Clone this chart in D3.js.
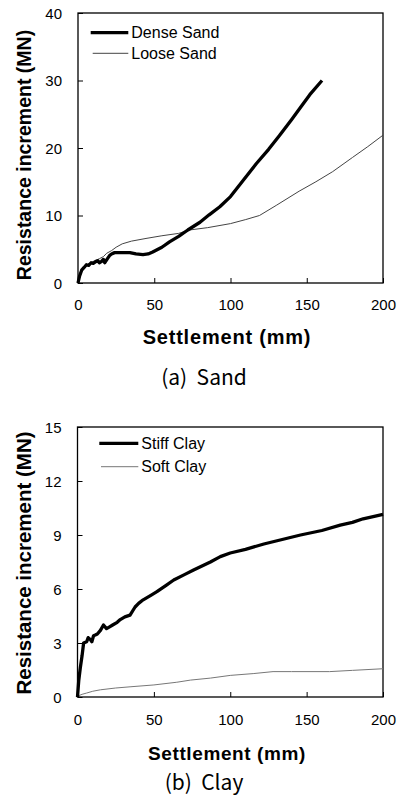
<!DOCTYPE html>
<html>
<head>
<meta charset="utf-8">
<script src="https://cdn.jsdelivr.net/npm/d3@7/dist/d3.min.js"></script>
<style>
  html, body { margin: 0; padding: 0; background: #fff; }
  svg { display: block; }
  .caption { white-space: pre; }
</style>
</head>
<body>
<svg id="chart" width="398" height="805"></svg>
<script>
// ---- Sand panel data (settlement in mm, resistance increment in MN) ----
const denseSandX = [0, 1, 2.4, 4, 5.5, 7, 8.6, 10, 11.9, 13, 14, 15.5, 16.6, 17.5, 19, 20.8, 22, 24, 28, 34, 38, 42.6, 46, 49, 55, 60, 66, 72, 80, 86, 93, 100, 108, 117, 125, 132, 140, 145.5, 152, 160];
const denseSandY = [0, 1.0, 1.9, 2.3, 2.7, 2.6, 3.0, 2.9, 3.2, 3.3, 3.0, 3.2, 3.5, 3.0, 3.5, 4.1, 4.3, 4.5, 4.5, 4.5, 4.3, 4.2, 4.3, 4.6, 5.3, 6.1, 6.9, 7.85, 9.0, 10.1, 11.3, 12.8, 15.1, 17.7, 19.8, 21.8, 24.2, 25.9, 27.9, 30.0];
const looseSandX = [0, 2, 4, 6, 8, 10, 12, 14, 16.6, 18.8, 22, 25, 29, 35, 44.6, 55, 66, 73, 85, 100, 110, 119, 130, 145, 156, 167, 180, 190, 200];
const looseSandY = [0, 1.5, 2.2, 2.6, 2.9, 3.2, 3.4, 3.6, 3.9, 4.4, 4.8, 5.3, 5.8, 6.2, 6.6, 7.0, 7.35, 7.85, 8.2, 8.8, 9.4, 10.0, 11.5, 13.6, 15.0, 16.5, 18.6, 20.2, 21.9];

// ---- Clay panel data ----
const stiffClayX = [0, 0.8, 1.8, 3, 4, 6, 7, 8.3, 9.4, 10.5, 11.6, 13, 15, 17, 19, 21, 23, 26, 28, 31, 34.4, 37.7, 40, 43, 48, 52, 58, 63, 70, 76, 87, 93.5, 100, 110, 122, 134, 146, 160, 172, 180, 187, 195, 200];
const stiffClayY = [0, 0.9, 1.6, 2.3, 3.0, 3.07, 3.3, 3.2, 3.07, 3.4, 3.44, 3.5, 3.7, 4.0, 3.8, 3.9, 4.0, 4.15, 4.3, 4.45, 4.55, 5.0, 5.2, 5.4, 5.65, 5.85, 6.2, 6.5, 6.8, 7.05, 7.5, 7.8, 8.0, 8.2, 8.5, 8.75, 9.0, 9.25, 9.55, 9.7, 9.9, 10.05, 10.15];
const softClayX = [0, 1, 3, 6, 10, 15, 25, 35, 50, 65, 74, 87, 100, 115, 128, 140, 165, 180, 200];
const softClayY = [0, 0.08, 0.15, 0.22, 0.32, 0.4, 0.5, 0.57, 0.67, 0.82, 0.94, 1.05, 1.2, 1.3, 1.41, 1.41, 1.41, 1.48, 1.57];

// ---- Axis ticks and labels ----
const settlementTicks = [0, 50, 100, 150, 200];
const sandResistanceTicks = [0, 10, 20, 30, 40];
const clayResistanceTicks = [0, 3, 6, 9, 12, 15];
const xTitle = "Settlement (mm)";
const yTitle = "Resistance increment (MN)";
const sandLegend = ["Dense Sand", "Loose Sand"];
const clayLegend = ["Stiff Clay", "Soft Clay"];
const captions = ["(a)  Sand", "(b)  Clay"];

const zip = (xs, ys) => xs.map((x, i) => [x, ys[i]]);

const svg = d3.select("#chart");
svg.append("rect").attr("width", 398).attr("height", 805).attr("fill", "#fff");

const sans = "'Liberation Sans', Arial, sans-serif";

function drawPanel(p) {
  const g = svg.append("g");
  const x = d3.scaleLinear().domain([0, 200]).range([p.left, p.right]);
  const y = d3.scaleLinear().domain([0, p.yMax]).range([p.bottom, p.top]);

  // inward ticks on both axes
  const xAxis = g.append("g")
    .attr("transform", `translate(0,${p.bottom})`)
    .call(d3.axisBottom(x).tickValues(settlementTicks).tickSize(-5).tickFormat(d3.format("d")));
  xAxis.select(".domain").remove();
  xAxis.selectAll("line").attr("stroke", "#000").attr("stroke-width", 1);
  xAxis.selectAll("text")
    .attr("y", p.xLabelOffset).attr("dy", "0.35em")
    .attr("font-family", sans).attr("font-size", 15).attr("fill", "#000");

  const yAxis = g.append("g")
    .attr("transform", `translate(${p.left},0)`)
    .call(d3.axisLeft(y).tickValues(p.yTicks).tickSize(-5).tickFormat(d3.format("d")));
  yAxis.select(".domain").remove();
  yAxis.selectAll("line").attr("stroke", "#000").attr("stroke-width", 1);
  yAxis.selectAll("text")
    .attr("x", -16).attr("dy", "0.35em")
    .attr("font-family", sans).attr("font-size", 15).attr("fill", "#000");

  // plot frame
  g.append("rect")
    .attr("x", p.left).attr("y", p.top)
    .attr("width", p.right - p.left).attr("height", p.bottom - p.top)
    .attr("fill", "none").attr("stroke", "#000").attr("stroke-width", 1.3);

  const line = d3.line().x(d => x(d[0])).y(d => y(d[1]));

  // thin series first, thick series on top
  g.append("path").datum(p.thin.data)
    .attr("d", line).attr("fill", "none")
    .attr("stroke", p.thin.color).attr("stroke-width", 1);
  g.append("path").datum(p.thick.data)
    .attr("d", line).attr("fill", "none")
    .attr("stroke", "#000").attr("stroke-width", 3.3)
    .attr("stroke-linejoin", "round");

  // legend
  const leg = g.append("g");
  [[p.thick, 3.3, "#000"], [p.thin, 1, p.thin.color]].forEach(([s, w, c], i) => {
    const ly = p.legY[i];
    leg.append("line")
      .attr("x1", p.legX1[i]).attr("x2", p.legX2).attr("y1", ly).attr("y2", ly)
      .attr("stroke", c).attr("stroke-width", w);
    leg.append("text")
      .attr("x", p.legX2 + 3).attr("y", ly).attr("dy", "0.35em")
      .attr("font-family", sans).attr("font-size", 16).attr("fill", "#000")
      .text(s.name);
  });

  // axis titles
  g.append("text")
    .attr("x", 227).attr("y", p.xTitleY).attr("dy", "0.35em")
    .attr("text-anchor", "middle")
    .attr("font-family", sans).attr("font-weight", "bold")
    .attr("font-size", p.xTitleSize).attr("letter-spacing", p.xTitleSpacing)
    .text(xTitle);
  g.append("text")
    .attr("transform", `translate(24,${p.yTitleY}) rotate(-90)`)
    .attr("dy", "0.35em").attr("text-anchor", "middle")
    .attr("font-family", sans).attr("font-weight", "bold")
    .attr("font-size", p.yTitleSize)
    .text(yTitle);

  // panel caption
  g.append("text")
    .attr("class", "caption")
    .attr("x", 204).attr("y", p.captionY).attr("dy", "0.35em")
    .attr("text-anchor", "middle")
    .attr("font-family", "'Noto Sans CJK KR', 'Noto Sans', sans-serif")
    .attr("font-size", p.captionSize)
    .text(p.caption);
}

drawPanel({
  left: 78, right: 383, top: 13, bottom: 283, yMax: 40,
  yTicks: sandResistanceTicks, xLabelOffset: 22,
  thick: { name: sandLegend[0], data: zip(denseSandX, denseSandY) },
  thin: { name: sandLegend[1], data: zip(looseSandX, looseSandY), color: "#444" },
  legY: [32.7, 53.3], legX1: [90.7, 92.7], legX2: 128.3,
  xTitleY: 337, xTitleSize: 20, xTitleSpacing: 0.8,
  yTitleY: 155, yTitleSize: 19.5,
  caption: captions[0], captionY: 378, captionSize: 21
});

drawPanel({
  left: 77.5, right: 383, top: 427, bottom: 697, yMax: 15,
  yTicks: clayResistanceTicks, xLabelOffset: 23,
  thick: { name: clayLegend[0], data: zip(stiffClayX, stiffClayY) },
  thin: { name: clayLegend[1], data: zip(softClayX, softClayY), color: "#777" },
  legY: [443.3, 466.7], legX1: [99.3, 101], legX2: 138.3,
  xTitleY: 753, xTitleSize: 19, xTitleSpacing: 0.6,
  yTitleY: 563, yTitleSize: 20.5,
  caption: captions[1], captionY: 783, captionSize: 21
});
</script>
</body>
</html>
